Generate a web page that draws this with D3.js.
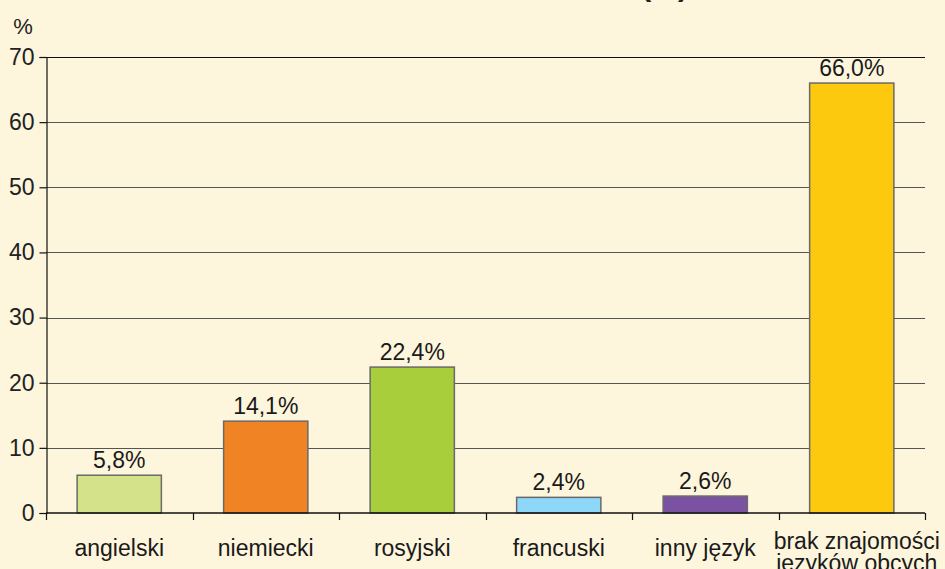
<!DOCTYPE html>
<html>
<head>
<meta charset="utf-8">
<script src="https://cdn.jsdelivr.net/npm/d3@7"></script>
<style>
  html, body { margin: 0; padding: 0; background: #fdf5dc; }
  svg { display: block; font-family: "Liberation Sans", Arial, sans-serif; }
</style>
</head>
<body>
<script>
// categories and values
var categories = ['angielski', 'niemiecki', 'rosyjski', 'francuski', 'inny język', 'brak znajomości\njęzyków obcych']
var values = [5.8, 14.1, 22.4, 2.4, 2.6, 66.0]
var labels = ['5,8%', '14,1%', '22,4%', '2,4%', '2,6%', '66,0%']
var colors = ['#d4e38a', '#f08424', '#a8ce3c', '#8dd8f8', '#7b51a1', '#fdc90f']
var yTicks = [0, 10, 20, 30, 40, 50, 60, 70]

var width = 945,
    height = 569
var margin = {top: 57, right: 20, bottom: 56, left: 46}

var svg = d3.select('body').append('svg')
    .attr('width', width)
    .attr('height', height)

svg.append('rect')
    .attr('width', width)
    .attr('height', height)
    .attr('fill', '#fdf5dc')

var x = d3.scaleBand()
    .domain(categories)
    .range([margin.left, width - margin.right])
    .padding(0)

var y = d3.scaleLinear()
    .domain([0, 70])
    .range([height - margin.bottom, margin.top])

// cut-off title at the very top
svg.append('text')
    .attr('x', 688)
    .attr('y', -4)
    .attr('text-anchor', 'end')
    .attr('font-size', 30)
    .attr('font-weight', 'bold')
    .attr('fill', '#222')
    .text('(%)')

// gridlines
svg.append('g')
    .selectAll('line')
    .data(yTicks.filter(d => d > 0))
    .enter().append('line')
    .attr('x1', margin.left)
    .attr('x2', width - margin.right)
    .attr('y1', d => Math.round(y(d)) + 0.5)
    .attr('y2', d => Math.round(y(d)) + 0.5)
    .attr('stroke', d => d == 70 ? '#111' : '#555')
    .attr('stroke-width', 1.2)

// y axis
var yAxis = svg.append('g')
    .attr('transform', 'translate(' + (margin.left + 0.5) + ',0)')
    .call(d3.axisLeft(y).tickValues(yTicks).tickSize(7).tickPadding(5).tickFormat(d3.format('d')))
yAxis.select('.domain').attr('stroke', '#111').attr('stroke-width', 1.2)
yAxis.selectAll('.tick line').attr('stroke', '#111').attr('stroke-width', 1.2)
yAxis.selectAll('.tick text')
    .attr('font-size', 23)
    .attr('font-family', '"Liberation Sans", Arial, sans-serif')
    .attr('fill', '#222')

svg.append('text')
    .attr('x', 23)
    .attr('y', 34)
    .attr('text-anchor', 'middle')
    .attr('font-size', 22)
    .attr('fill', '#222')
    .text('%')

// bars
var barW = x.bandwidth() * 0.575
svg.append('g')
    .selectAll('rect')
    .data(values)
    .enter().append('rect')
    .attr('x', (d, i) => x(categories[i]) + (x.bandwidth() - barW) / 2)
    .attr('y', d => y(d))
    .attr('width', barW)
    .attr('height', d => y(0) - y(d))
    .attr('fill', (d, i) => colors[i])
    .attr('stroke', '#6a6a6a')
    .attr('stroke-width', 1.5)

// value labels
svg.append('g')
    .selectAll('text')
    .data(values)
    .enter().append('text')
    .attr('x', (d, i) => x(categories[i]) + x.bandwidth() / 2)
    .attr('y', d => y(d) - 7)
    .attr('text-anchor', 'middle')
    .attr('font-size', 23)
    .attr('fill', '#1a1a1a')
    .text((d, i) => labels[i])

// x axis line and ticks
var x0 = y(0)
svg.append('line')
    .attr('x1', margin.left)
    .attr('x2', width - margin.right)
    .attr('y1', x0)
    .attr('y2', x0)
    .attr('stroke', '#111')
    .attr('stroke-width', 1.5)

var bounds = categories.map(c => x(c)).concat([width - margin.right])
svg.append('g')
    .selectAll('line')
    .data(bounds)
    .enter().append('line')
    .attr('x1', d => Math.round(d) + 0.5)
    .attr('x2', d => Math.round(d) + 0.5)
    .attr('y1', x0)
    .attr('y2', x0 + 7)
    .attr('stroke', '#111')
    .attr('stroke-width', 1.2)

// category labels
var catText = svg.append('g')
    .selectAll('text')
    .data(categories)
    .enter().append('text')
    .attr('x', d => x(d) + x.bandwidth() / 2 + (d.indexOf('\n') >= 0 ? 5 : 0))
    .attr('y', d => d.indexOf('\n') >= 0 ? 549 : 556)
    .attr('text-anchor', 'middle')
    .attr('font-size', 23)
    .attr('fill', '#1a1a1a')

catText.each(function (d) {
    var lines = d.split('\n')
    var t = d3.select(this)
    lines.forEach((l, i) => {
        t.append('tspan')
            .attr('x', t.attr('x'))
            .attr('dy', i == 0 ? 0 : 22)
            .text(l)
    })
})
</script>
</body>
</html>
